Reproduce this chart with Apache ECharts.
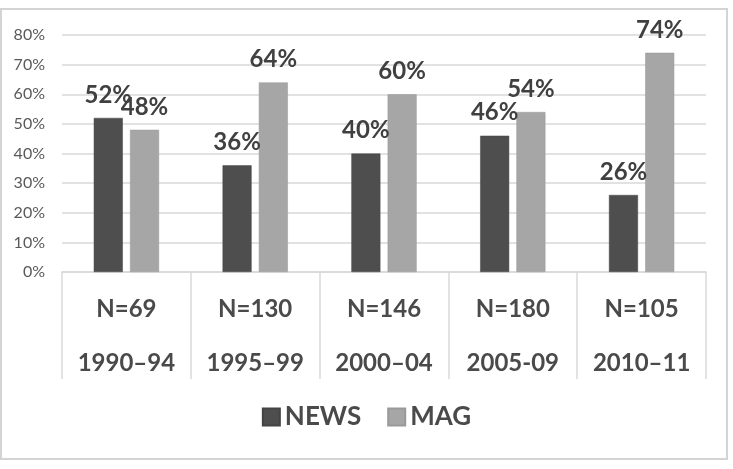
<!DOCTYPE html>
<html>
<head>
<meta charset="utf-8">
<script src="https://cdn.jsdelivr.net/npm/echarts@6/dist/echarts.min.js"></script>
<style>
  html, body { margin: 0; padding: 0; background: #fff; }
  #chart { width: 733px; height: 469px; }
</style>
</head>
<body>
<div id="chart"></div>
<script>
// data
var periods = ["1990–94", "1995–99", "2000–04", "2005-09", "2010–11"];
var sampleSizes = ["N=69", "N=130", "N=146", "N=180", "N=105"];
var newsShare = [52, 36, 40, 46, 26];
var magShare = [48, 64, 60, 54, 74];

var FONT = "Lato";
var chart = echarts.init(document.getElementById("chart"));

var labelStyle = {
  show: true,
  position: "top",
  distance: 11,
  fontFamily: FONT,
  fontWeight: "bold",
  fontSize: 24,
  color: "#404040",
  formatter: "{c}%"
};

chart.setOption({
  animation: false,
  textStyle: { fontFamily: FONT },
  // outer frame
  graphic: [{
    type: "rect",
    shape: { x: 1, y: 9, width: 726, height: 450 },
    style: { fill: "none", stroke: "#d4d4d4", lineWidth: 2 },
    silent: true
  }],
  grid: { left: 62, right: 27, top: 35, bottom: 197 },
  legend: {
    data: ["NEWS", "MAG"],
    bottom: 34,
    left: "center",
    icon: "rect",
    itemWidth: 17,
    itemHeight: 17,
    itemGap: 26,
    textStyle: { fontFamily: FONT, fontWeight: "bold", fontSize: 26, color: "#4a4a4a" }
  },
  xAxis: {
    type: "category",
    data: periods,
    axisLine: { lineStyle: { color: "#d9d9d9", width: 1.5 } },
    axisTick: { show: true, length: 107, lineStyle: { color: "#d9d9d9", width: 1.5 } },
    axisLabel: {
      margin: 10,
      interval: 0,
      formatter: function (v, i) {
        return "{n|" + sampleSizes[i] + "}\n{p|" + v + "}";
      },
      rich: {
        n: { fontFamily: FONT, fontWeight: "bold", fontSize: 24, color: "#4a4a4a", lineHeight: 54 },
        p: { fontFamily: FONT, fontWeight: "bold", fontSize: 24, color: "#4a4a4a", lineHeight: 54 }
      }
    }
  },
  yAxis: {
    type: "value",
    min: 0,
    max: 80,
    interval: 10,
    axisLine: { show: false },
    axisTick: { show: false },
    axisLabel: { formatter: "{value}%", fontFamily: FONT, fontSize: 16, color: "#595959", margin: 17 },
    splitLine: { lineStyle: { color: "#d9d9d9", width: 1.5 } }
  },
  series: [
    {
      name: "NEWS",
      type: "bar",
      data: newsShare,
      barWidth: 29,
      barGap: "25%",
      itemStyle: { color: "#4e4e4e", borderColor: "#444", borderWidth: 0.5 },
      label: labelStyle
    },
    {
      name: "MAG",
      type: "bar",
      data: magShare,
      barWidth: 29,
      itemStyle: { color: "#a6a6a6", borderColor: "#999", borderWidth: 0.5 },
      label: labelStyle
    }
  ]
});
</script>
</body>
</html>
